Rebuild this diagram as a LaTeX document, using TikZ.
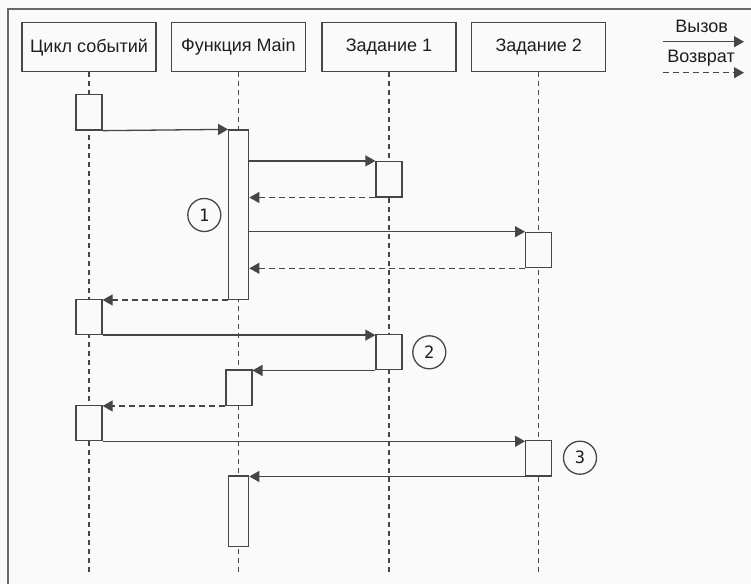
\documentclass[tikz,border=0pt]{standalone}
\usepackage{fontspec}
\setmainfont{Liberation Sans}
\newfontfamily\numfont{DejaVu Sans Mono}
\usepackage{tikz}
\usetikzlibrary{arrows.meta}
\definecolor{bgcol}{RGB}{250,250,250}
\definecolor{linecol}{RGB}{70,70,70}
\definecolor{framecol}{RGB}{105,105,105}
\definecolor{txtcol}{RGB}{30,30,30}

\begin{document}
\begin{tikzpicture}[x=1pt,y=-1pt,line width=1.3pt,color=linecol,
  >={Triangle[length=10pt,width=11pt]},
  head/.style={draw,fill=bgcol,minimum width=134pt,minimum height=49pt,inner sep=0pt,
    font=\fontsize{18}{20}\selectfont,text=txtcol},
  life/.style={dash pattern=on 5pt off 4pt,line width=1.1pt},
  act/.style={draw,fill=bgcol,minimum width=26pt,minimum height=35.3pt,inner sep=0pt},
  actmain/.style={act,minimum width=20pt},
  call/.style={->},
  ret/.style={->,dash pattern=on 6pt off 4pt},
  num/.style={draw,circle,minimum size=33pt,inner sep=0pt,
    font=\numfont\fontsize{17}{17}\selectfont,text=txtcol},
  lbl/.style={font=\fontsize{18}{20}\selectfont,text=txtcol}]

% Page and frame
\fill[bgcol] (0,0) rectangle (751,584);
\useasboundingbox (0,0) rectangle (751,584);
\draw[framecol,line width=1.8pt] (8,584) |- (751,8.7);

% Lifeline heads
\node[head] (loop) at (89,47.3) {Цикл событий};
\node[head] (mainf) at (238.4,47.3) {Функция Main};
\node[head] (task1) at (389,47.3) {Задание 1};
\node[head] (task2) at (538.7,47.3) {Задание 2};

% Lifelines
\coordinate (bottom) at (0,574.3);
\draw[life] (loop.south) -- (loop.south |- bottom);
\draw[life] (mainf.south) -- (mainf.south |- bottom);
\draw[life] (task1.south) -- (task1.south |- bottom);
\draw[life] (task2.south) -- (task2.south |- bottom);

% Activations
\node[act] (el1) at (89,112.35) {};
\node[actmain,minimum height=169.3pt] (mn1) at (238.7,214.65) {};
\node[act] (t1a) at (389,179.2) {};
\node[act] (t2a) at (538.7,250) {};
\node[act] (el2) at (89,316.8) {};
\node[act] (t1b) at (389,352.15) {};
\node[act] (mn2) at (238.85,387.65) {};
\node[act] (el3) at (89,423) {};
\node[act] (t2b) at (538.7,458.2) {};
\node[actmain,minimum height=70.7pt] (mn3) at (238.7,511.35) {};

% Main runs both tasks
\draw[call] (el1.south east) -- (mn1.north west);
\draw[call] (mn1.east |- t1a.north) -- (t1a.north west);
\draw[ret] (t1a.south west) -- (t1a.south west -| mn1.east);
\draw[call] (mn1.east |- t2a.north) -- (t2a.north west);
\draw[ret] (t2a.south west) -- (t2a.south west -| mn1.east);
\draw[ret] (mn1.south west) -- (mn1.south west -| el2.east);

% Task 1 finishes
\draw[call] (el2.south east) -- (el2.south east -| t1b.west);
\draw[call] (t1b.south west) -- (t1b.south west -| mn2.east);
\draw[ret] (mn2.south west) -- (mn2.south west -| el3.east);

% Task 2 finishes
\draw[call] (el3.south east) -- (el3.south east -| t2b.west);
\draw[call] (t2b.south west) -- (t2b.south west -| mn3.east);

% Step marks
\node[num] (c1) at (204.3,215) {1};
\node[num] (c2) at (429.3,352.3) {2};
\node[num] (c3) at (580,457.7) {3};

% Legend
\node[lbl] (callt) at (701.7,26.7) {Вызов};
\coordinate (calla) at (662.7,41.7);
\coordinate (callb) at (744,41.7);
\draw[call] (calla) -- (callb);
\node[lbl] (rett) at (701,58.3) {Возврат};
\coordinate (reta) at (662.7,72.7);
\coordinate (retb) at (744,72.7);
\draw[ret] (reta) -- (retb);

\end{tikzpicture}
\end{document}
